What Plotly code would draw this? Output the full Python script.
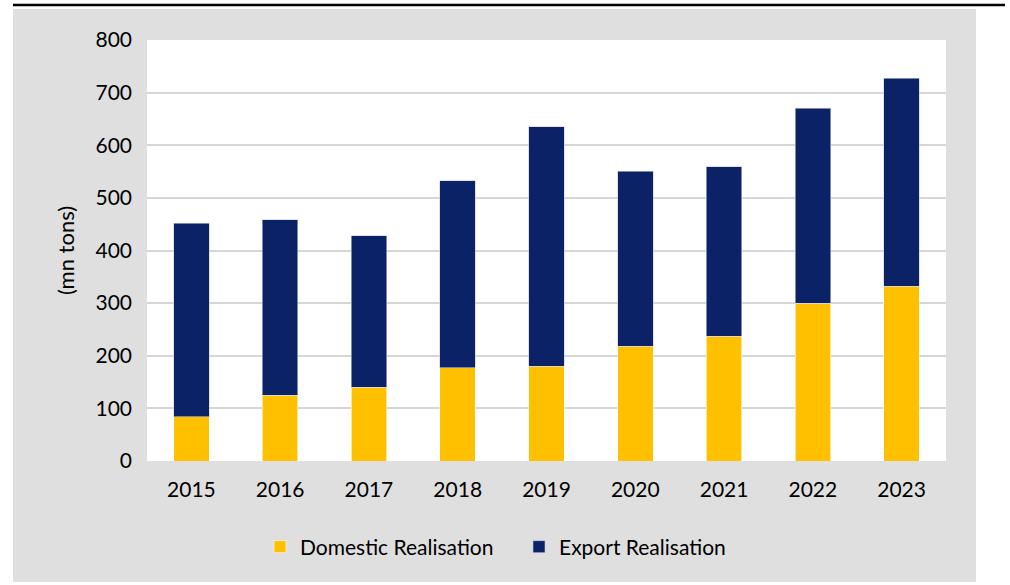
import plotly.graph_objects as go

years = ["2015", "2016", "2017", "2018", "2019", "2020", "2021", "2022", "2023"]
domestic = [84, 125, 140, 177, 180, 218, 237, 300, 332]
total = [452, 458, 428, 533, 635, 551, 559, 670, 727]
export = [t - d for t, d in zip(total, domestic)]
y_ticks = [0, 100, 200, 300, 400, 500, 600, 700, 800]

W, H = 1010, 585
L, R, T, B = 147, 946, 40, 461
pw, ph = R - L, B - T

def px(x):
    return (x - L) / pw

def py(y):
    return (B - y) / ph

font = "Lato, 'Open Sans', sans-serif"

fig = go.Figure()
fig.add_trace(go.Bar(x=years, y=domestic, name="Domestic Realisation",
                     marker=dict(color="#FFC000", line=dict(color="#ffffff", width=0.6))))
fig.add_trace(go.Bar(x=years, y=export, name="Export Realisation",
                     marker=dict(color="#0B2366", line=dict(color="#c8cde0", width=0.6))))

fig.update_layout(
    width=W, height=H,
    barmode="stack", bargap=0.6,
    paper_bgcolor="#ffffff", plot_bgcolor="#ffffff",
    margin=dict(l=L, r=W - R, t=T, b=H - B, autoexpand=False),
    font=dict(family=font, size=21, color="#000000"),
    legend=dict(orientation="h", x=px(519), y=py(547), xanchor="center", yanchor="middle",
                bgcolor="rgba(0,0,0,0)", font=dict(size=21), traceorder="normal",
                entrywidth=214, entrywidthmode="pixels"),
    shapes=[
        dict(type="rect", xref="paper", yref="paper", x0=px(13), x1=px(976), y0=py(582), y1=py(9),
             fillcolor="#DFDFDF", line=dict(width=0), layer="below"),
        dict(type="rect", xref="paper", yref="paper", x0=0, x1=1, y0=0, y1=1,
             fillcolor="#ffffff", line=dict(width=0), layer="below"),
        dict(type="line", xref="paper", yref="paper", x0=px(13), x1=px(1005), y0=py(5), y1=py(5),
             line=dict(color="#000000", width=2.5)),
    ],
)
fig.update_yaxes(range=[0, 800], tickvals=y_ticks, showgrid=True, gridcolor="#d6d6d6", gridwidth=1.5,
                 zeroline=False, showline=False, ticklabelstandoff=14,
                 title=dict(text="(mn tons)", standoff=14, font=dict(size=22)))
fig.update_xaxes(showgrid=False, showline=False, ticklabelstandoff=14)

fig.write_html("out.html", config={"displayModeBar": False},
               post_script="document.body.style.margin='0px';")
